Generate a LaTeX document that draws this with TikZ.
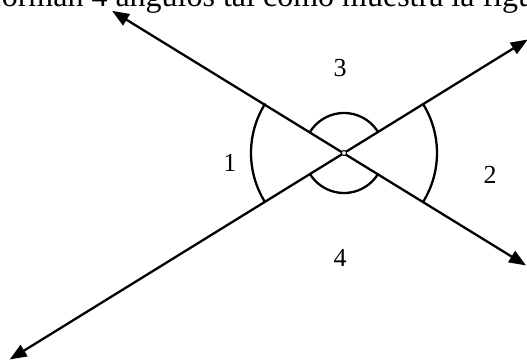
\documentclass[tikz,border=0pt]{standalone}
\usepackage{fontspec}
\setmainfont{Liberation Serif}
\usetikzlibrary{arrows.meta}

\begin{document}
\begin{tikzpicture}[
	x=1pt, y=1pt,
	line cap=round,
	line join=round,
	line width=2.3pt,
	recta/.style={{Triangle[length=17pt,width=13pt]}-{Triangle[length=17pt,width=13pt]}},
	angulo/.style={line width=2.3pt},
	every node/.style={font=\fontsize{26}{31}\selectfont, inner sep=0pt}
	]
	
	\useasboundingbox (-344,-208) rectangle (183,153);
	
	\node[anchor=base west, font=\fontsize{32}{38}\selectfont] (texto) at (-354,146) {forman 4 ángulos tal como muestra la figura};
	
	% Rectas
	\coordinate (O) at (0,0);
	\coordinate (A1) at (148.5:272);
	\coordinate (A2) at (-31.7:214);
	\coordinate (B1) at (211.7:393);
	\coordinate (B2) at (31.7:216);
	
	\draw[recta] (A1) -- (A2);
	\draw[recta] (B1) -- (B2);
	
	% Angulos
	\draw[angulo] (148.3:93) arc[start angle=148.3, end angle=211.7, radius=93];
	\draw[angulo] (-31.7:93) arc[start angle=-31.7, end angle=31.7, radius=93];
	\draw[angulo] (31.7:40) arc[start angle=31.7, end angle=148.3, radius=40];
	\draw[angulo] (211.7:40) arc[start angle=211.7, end angle=328.3, radius=40];
	
	\draw[line width=1pt, fill=white] (O) circle (2.5);
	
	% Etiquetas
	\node (n3) at (-4,85) {3};
	\node (n1) at (-114,-10) {1};
	\node (n2) at (146,-22) {2};
	\node (n4) at (-4,-105) {4};
	
\end{tikzpicture}
\end{document}
